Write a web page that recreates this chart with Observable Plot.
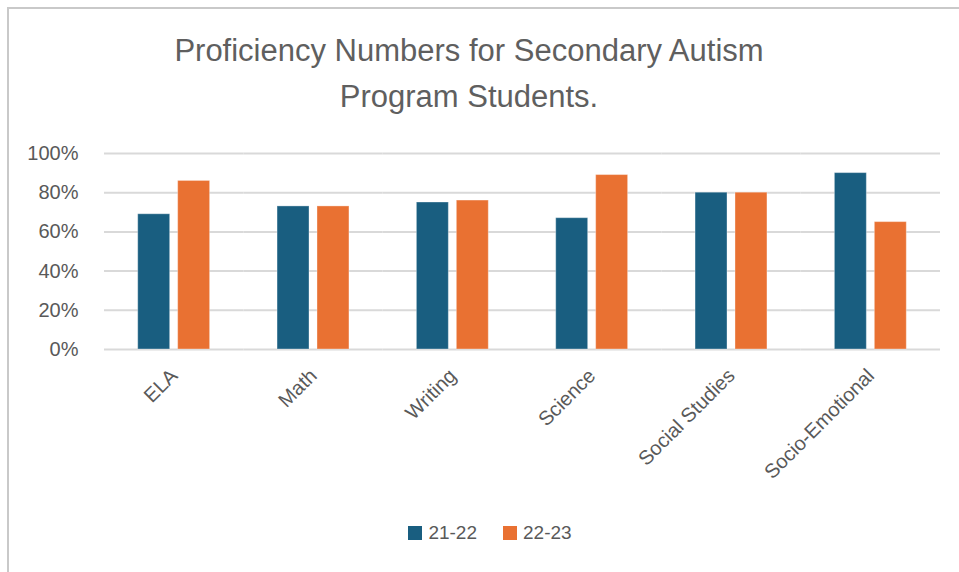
<!DOCTYPE html>
<html>
<head>
<meta charset="utf-8">
<script src="https://cdn.jsdelivr.net/npm/d3@7"></script>
<script src="https://cdn.jsdelivr.net/npm/@observablehq/plot@0.6"></script>
<style>
  body { margin: 0; background: #fff; font-family: "Liberation Sans", Arial, sans-serif; }
  #wrap { position: relative; width: 959px; height: 572px; overflow: hidden; background: #fff; }
  #frame { position: absolute; left: 7px; top: 7px; width: 960px; height: 580px;
           border-top: 2px solid #c9c9c9; border-left: 2px solid #c9c9c9; }
  #title { position: absolute; left: 119px; top: 28px; width: 700px; text-align: center;
           font-size: 31px; line-height: 46px; color: #5f5f5f; }
  #chart { position: absolute; left: 0; top: 128px; }
  #legend { position: absolute; left: 0; top: 522px; width: 980px; display: flex; justify-content: center;
            gap: 26px; font-size: 19px; color: #595959; }
  .item { display: flex; align-items: center; gap: 6px; }
  .sw { width: 14px; height: 14px; display: inline-block; }
</style>
</head>
<body>
<div id="wrap">
  <div id="frame"></div>
  <div id="title">Proficiency Numbers for Secondary Autism<br>Program Students.</div>
  <div id="chart"></div>
  <div id="legend"></div>
</div>
<script>
const subjects = ["ELA", "Math", "Writing", "Science", "Social Studies", "Socio-Emotional"];
const years = ["21-22", "22-23"];
const values2122 = [69, 73, 75, 67, 80, 90];
const values2223 = [86, 73, 76, 89, 80, 65];
const yTicks = [0, 20, 40, 60, 80, 100];
const colors = ["#195e80", "#e97132"];

const data = [];
subjects.forEach((s, i) => {
  data.push({subject: s, year: years[0], value: values2122[i]});
  data.push({subject: s, year: years[1], value: values2223[i]});
});

const chart = Plot.plot({
  width: 959,
  height: 390,
  marginTop: 25,
  marginBottom: 169,
  marginLeft: 104,
  marginRight: 19,
  style: {fontFamily: "'Liberation Sans', Arial, sans-serif", fontSize: "20px", color: "#595959", background: "transparent"},
  fx: {domain: subjects, padding: 0, round: false, label: null, tickSize: 0, tickRotate: -45, tickPadding: 23, axis: "bottom"},
  x: {domain: years, paddingInner: 0.2, paddingOuter: 0.84375, round: false, axis: null},
  y: {domain: [0, 100], ticks: yTicks, tickFormat: d => d + "%", tickSize: 0, tickPadding: 26, label: null},
  color: {domain: years, range: colors},
  marks: [
    Plot.ruleY(yTicks, {stroke: "#d9d9d9", strokeWidth: 2}),
    Plot.barY(data, {fx: "subject", x: "year", y: "value", fill: "year", stroke: "#ffffff", strokeOpacity: 0.35, strokeWidth: 1})
  ]
});
document.getElementById("chart").appendChild(chart);

const legend = document.getElementById("legend");
years.forEach((y, i) => {
  const it = document.createElement("span");
  it.className = "item";
  const sw = document.createElement("span");
  sw.className = "sw";
  sw.style.background = colors[i];
  it.appendChild(sw);
  it.appendChild(document.createTextNode(y));
  legend.appendChild(it);
});
</script>
</body>
</html>
